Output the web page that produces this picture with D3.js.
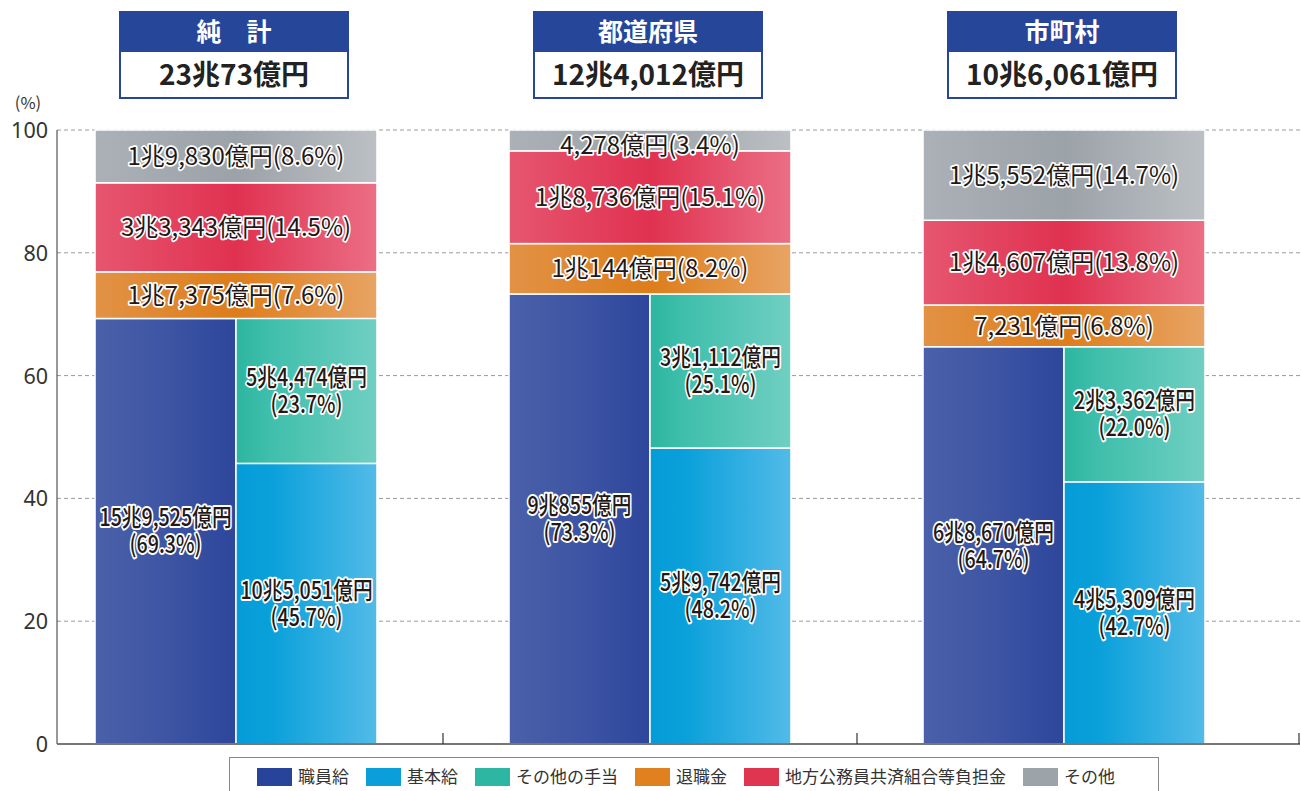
<!DOCTYPE html>
<html><head><meta charset="utf-8">
<script src="https://cdn.jsdelivr.net/npm/d3@7"></script>
<style>
body{margin:0;background:#fff;}
svg{display:block;font-family:"Noto Sans CJK JP","Noto Sans",sans-serif;}
</style></head>
<body><svg id="c" width="1301" height="791"></svg>
<script>
// ---- data ----
const groups = ["純計", "都道府県", "市町村"];
const groupTitles = ["純　計", "都道府県", "市町村"];
const groupTotals = ["23兆73億円", "12兆4,012億円", "10兆6,061億円"];

const shokuinkyuPct = [69.3, 73.3, 64.7];
const shokuinkyuAmt = ["15兆9,525億円", "9兆855億円", "6兆8,670億円"];
const kihonkyuPct = [45.7, 48.2, 42.7];
const kihonkyuAmt = ["10兆5,051億円", "5兆9,742億円", "4兆5,309億円"];
const teatePct = [23.7, 25.1, 22.0];
const teateAmt = ["5兆4,474億円", "3兆1,112億円", "2兆3,362億円"];
const taishokuPct = [7.6, 8.2, 6.8];
const taishokuAmt = ["1兆7,375億円", "1兆144億円", "7,231億円"];
const kyosaiPct = [14.5, 15.1, 13.8];
const kyosaiAmt = ["3兆3,343億円", "1兆8,736億円", "1兆4,607億円"];
const sonotaPct = [8.6, 3.4, 14.7];
const sonotaAmt = ["1兆9,830億円", "4,278億円", "1兆5,552億円"];

const yTicks = [0, 20, 40, 60, 80, 100];
const legendLabels = ["職員給", "基本給", "その他の手当", "退職金", "地方公務員共済組合等負担金", "その他"];

// ---- styles ----
const legendColors = ["#27439a", "#0a9fdb", "#2db7a2", "#e0801e", "#e03550", "#9ca3a9"];
const grads = {
  shokuin: ["#4b60a9", "#3d55a3", "#2e469b"],
  kihon: ["#049cd8", "#1ea6dd", "#52bbe8"],
  teate: ["#2cb5a0", "#40bfac", "#70cfc2"],
  taishoku: ["#e29245", "#dd7d1b", "#e8a464"],
  kyosai: ["#e6566f", "#e03150", "#eb6f85"],
  sonota: ["#abb1b6", "#9ba2a8", "#bcc0c4"]
};

const svg = d3.select("#c");
const defs = svg.append("defs");
Object.entries(grads).forEach(([k, c]) => {
  const g = defs.append("linearGradient").attr("id", "g_" + k).attr("x1", "0%").attr("x2", "100%").attr("y1", "0").attr("y2", "0");
  if (k === "shokuin" || k === "teate") {
    g.append("stop").attr("offset", "0%").attr("stop-color", c[0]);
    g.append("stop").attr("offset", k === "teate" ? "25%" : "50%").attr("stop-color", c[1]);
    g.append("stop").attr("offset", "100%").attr("stop-color", c[2]);
  } else if (k === "kihon") {
    g.append("stop").attr("offset", "0%").attr("stop-color", c[0]);
    g.append("stop").attr("offset", "25%").attr("stop-color", "#0aa0da");
    g.append("stop").attr("offset", "100%").attr("stop-color", c[2]);
  } else {
    g.append("stop").attr("offset", "0%").attr("stop-color", c[0]);
    g.append("stop").attr("offset", "50%").attr("stop-color", c[1]);
    g.append("stop").attr("offset", "100%").attr("stop-color", c[2]);
  }
});

const plotL = 57, plotR = 1300, plotT = 130, plotB = 744;
const y = d3.scaleLinear().domain([0, 100]).range([plotB, plotT]);
const x = d3.scaleBand().domain(groups).range([29, 1271]).paddingInner(0.319).paddingOuter(0.1595);

// gridlines
svg.append("g").selectAll("line").data(yTicks.filter(t => t > 0)).join("line")
  .attr("x1", plotL).attr("x2", plotR).attr("y1", d => y(d)).attr("y2", d => y(d))
  .attr("stroke", "#9a9a9a").attr("stroke-width", 1).attr("stroke-dasharray", "4,3");

// y axis
const yAxis = d3.axisLeft(y).tickValues(yTicks).tickSize(0).tickPadding(9);
const ya = svg.append("g").attr("transform", `translate(${plotL},0)`).call(yAxis);
ya.select(".domain").remove();
ya.attr("font-family", null).attr("font-size", null);
ya.selectAll("text").style("font-size", "21.5px").attr("fill", "#333").style("font-family", "'Noto Sans', sans-serif").attr("dy", "0.35em");
svg.append("line").attr("x1", plotL).attr("x2", plotL).attr("y1", plotT).attr("y2", plotB).attr("stroke", "#333").attr("stroke-width", 1);
svg.append("text").attr("x", 28).attr("y", 109).attr("text-anchor", "middle").attr("font-size", 16.5).attr("fill", "#333").text("(%)");

// segments
const segs = [];
groups.forEach((g, i) => {
  const x0 = x(g), bw = x.bandwidth(), half = bw / 2;
  segs.push({g, x: x0, w: half, y0: 0, y1: shokuinkyuPct[i], fill: "shokuin", lines: [shokuinkyuAmt[i], "(" + shokuinkyuPct[i].toFixed(1) + "%)"]});
  segs.push({g, x: x0 + half, w: half, y0: 0, y1: kihonkyuPct[i], fill: "kihon", lines: [kihonkyuAmt[i], "(" + kihonkyuPct[i].toFixed(1) + "%)"]});
  segs.push({g, x: x0 + half, w: half, y0: kihonkyuPct[i], y1: kihonkyuPct[i] + teatePct[i], fill: "teate", lines: [teateAmt[i], "(" + teatePct[i].toFixed(1) + "%)"]});
  let base = shokuinkyuPct[i];
  [[taishokuPct, taishokuAmt, "taishoku"], [kyosaiPct, kyosaiAmt, "kyosai"], [sonotaPct, sonotaAmt, "sonota"]].forEach(([p, a, f]) => {
    segs.push({g, x: x0, w: bw, y0: base, y1: base + p[i], fill: f, lines: [a[i] + "(" + p[i].toFixed(1) + "%)"]});
    base += p[i];
  });
});

svg.append("g").selectAll("rect").data(segs).join("rect")
  .attr("x", d => d.x).attr("width", d => d.w)
  .attr("y", d => y(Math.min(d.y1, 100))).attr("height", d => y(d.y0) - y(Math.min(d.y1, 100)))
  .attr("fill", d => `url(#g_${d.fill})`)
  .attr("stroke", "#fff").attr("stroke-width", 1.5);

// bottom axis
svg.append("line").attr("x1", plotL).attr("x2", plotR).attr("y1", plotB).attr("y2", plotB).attr("stroke", "#777").attr("stroke-width", 2);
const seps = [];
for (let i = 0; i < groups.length - 1; i++) seps.push((x(groups[i]) + x(groups[i + 1]) + x.bandwidth()) / 2);
seps.push(plotR - 1);
svg.append("g").selectAll("line").data(seps).join("line")
  .attr("x1", d => d).attr("x2", d => d).attr("y1", plotB).attr("y2", plotB - 11)
  .attr("stroke", "#333").attr("stroke-width", 1.2);

// labels (one text element per segment; multi-line via tspans)
const lg = svg.append("g");
segs.forEach(d => {
  const cy = (y(d.y0) + y(Math.min(d.y1, 100))) / 2 + (d.y1 - d.y0 < 5 ? 5 : 0);
  const cx = d.x + d.w / 2;
  const n = d.lines.length, lh = 27;
  const single = n === 1;
  const t = lg.append("text").attr("transform", `translate(${cx},${cy}) scale(${single ? 1 : 0.82},1)`)
    .attr("text-anchor", "middle")
    .attr("font-size", 24).attr("font-weight", single ? 400 : 500)
    .attr("fill", "#231815").attr("stroke", "#fff").attr("stroke-width", single ? 3.4 : 3.8).attr("stroke-linejoin", "round")
    .attr("paint-order", "stroke");
  d.lines.forEach((s, k) => {
    t.append("tspan").attr("x", 0).attr("y", (k - (n - 1) / 2) * lh).attr("dy", "0.36em").text(s);
  });
});

// headers
groups.forEach((g, i) => {
  const cx = x(g) + x.bandwidth() / 2 - 2;
  const w = 228, x0 = cx - w / 2;
  const hg = svg.append("g");
  hg.append("rect").attr("x", x0).attr("y", 12).attr("width", w).attr("height", 86).attr("fill", "#fff").attr("stroke", "#26469a").attr("stroke-width", 2);
  hg.append("rect").attr("x", x0).attr("y", 12).attr("width", w).attr("height", 40).attr("fill", "#26469a");
  hg.append("text").attr("x", cx).attr("y", 32).attr("dy", "0.36em").attr("text-anchor", "middle").attr("fill", "#fff")
    .attr("font-size", 25).attr("font-weight", 700).text(groupTitles[i]);
  hg.append("text").attr("x", cx).attr("y", 75).attr("dy", "0.36em").attr("text-anchor", "middle").attr("fill", "#222")
    .attr("font-size", 28).attr("font-weight", 700).text(groupTotals[i]);
});

// legend
const leg = svg.append("g");
leg.append("rect").attr("x", 229.5).attr("y", 757.5).attr("width", 929).attr("height", 40).attr("fill", "#fff").attr("stroke", "#888").attr("stroke-width", 1);
let lx = 257;
legendLabels.forEach((t, i) => {
  leg.append("rect").attr("x", lx).attr("y", 768).attr("width", 35).attr("height", 18).attr("fill", legendColors[i]);
  const tx = leg.append("text").attr("x", lx + 41).attr("y", 777).attr("dy", "0.36em").attr("font-size", 17).attr("fill", "#333").text(t);
  const tw = tx.node().getComputedTextLength();
  lx += 41 + tw + 17;
});
</script></body></html>
